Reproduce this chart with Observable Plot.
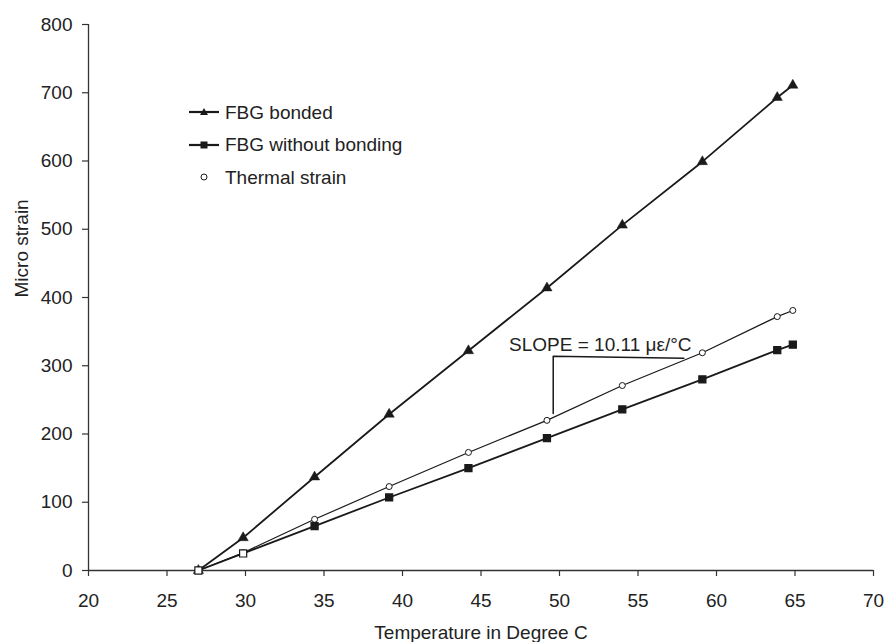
<!DOCTYPE html>
<html><head><meta charset="utf-8">
<script src="https://cdn.jsdelivr.net/npm/d3@7"></script>
<script src="https://cdn.jsdelivr.net/npm/@observablehq/plot@0.6"></script>
<style>
body{margin:0;background:#fff;}
#wrap{position:relative;width:889px;height:642px;font-family:"Liberation Sans",Arial,sans-serif;color:#222;}
#wrap svg.plot{position:absolute;left:0;top:0;}
#legend{position:absolute;left:189px;top:96px;font-size:19px;line-height:1;}
.row{height:32.5px;display:flex;align-items:center;}
.row svg{width:31px;height:14px;margin-right:5px;flex:none;}
</style></head><body><div id="wrap"><div id="legend"></div></div>
<script>
// ---- data ----
const temperature    = [27, 29.85, 34.4, 39.15, 44.2, 49.2, 54.0, 59.1, 63.87, 64.86];
const bondedStrain   = [0, 48, 137, 229, 322, 414, 506, 599, 693, 711];
const unbondedStrain = [0, 25, 65, 107, 150, 194, 236, 280, 323, 331];
const thermalStrain  = [0, 26, 75, 123, 173, 220, 271, 319, 372, 381];
const seriesNames = ["FBG bonded", "FBG without bonding", "Thermal strain"];
const xTicks = [20, 25, 30, 35, 40, 45, 50, 55, 60, 65, 70];
const yTicks = [0, 100, 200, 300, 400, 500, 600, 700, 800];
const slopeLabel = "SLOPE = 10.11 \u03bc\u03b5/\u00b0C";
const slopeBracket = [{t: 57.92, v: 311}, {t: 49.6, v: 314}, {t: 49.6, v: 230}];
const slopeLabelPos = [{t: 52.6, v: 322}];
const xTitle = "Temperature in Degree C";
const yTitle = "Micro strain";

const rows = temperature.map((t, i) => ({
  t, bonded: bondedStrain[i], unbonded: unbondedStrain[i], thermal: thermalStrain[i], i
}));

const ink = "#1a1a1a";
const plot = Plot.plot({
  width: 889, height: 642,
  marginLeft: 88, marginRight: 16, marginTop: 24, marginBottom: 72,
  x: {domain: [20, 70]},
  y: {domain: [0, 800]},
  color: {type: "identity"},
  style: {fontFamily: "'Liberation Sans', Arial, sans-serif", fontSize: "19px", color: "#222", background: "white", overflow: "visible"},
  marks: [
    Plot.axisX({ticks: xTicks, tickSize: 6, tickPadding: 17, label: null, stroke: "#333", strokeWidth: 1.2}),
    Plot.axisY({ticks: yTicks, tickSize: 6, tickPadding: 10, label: null, stroke: "#333", strokeWidth: 1.2}),
    Plot.ruleX([20], {stroke: "#333", strokeWidth: 1.3}),
    Plot.ruleY([0], {stroke: "#333", strokeWidth: 1.3}),
    Plot.text([xTitle], {frameAnchor: "bottom", dy: 62, lineAnchor: "middle", fill: "#222"}),
    Plot.text([yTitle], {frameAnchor: "left", dx: -67, rotate: -90, lineAnchor: "middle", fill: "#222"}),
    // slope annotation
    Plot.line(slopeBracket, {x: "t", y: "v", stroke: ink, strokeWidth: 1.5}),
    Plot.text(slopeLabelPos, {x: "t", y: "v", text: () => slopeLabel, lineAnchor: "bottom", fill: "#222"}),
    // series lines
    Plot.line(rows, {x: "t", y: "bonded", stroke: ink, strokeWidth: 1.8}),
    Plot.line(rows, {x: "t", y: "unbonded", stroke: ink, strokeWidth: 1.8}),
    Plot.line(rows, {x: "t", y: "thermal", stroke: ink, strokeWidth: 1.2}),
    // markers
    Plot.dot(rows, {x: "t", y: "bonded", symbol: "triangle", r: 3.8, fill: ink, stroke: ink, strokeWidth: 0.5}),
    Plot.dot(rows, {x: "t", y: "thermal", r: 3, fill: "white", stroke: ink, strokeWidth: 1}),
    Plot.dot(rows, {x: "t", y: "unbonded", symbol: "square", r: 4, fill: d => d.i < 2 ? "white" : ink, stroke: ink, strokeWidth: 1.2})
  ]
});
plot.classList.add("plot");
document.getElementById("wrap").prepend(plot);

// legend (HTML)
const legendSymbols = [
  `<line x1="0" y1="7" x2="30" y2="7" stroke="${ink}" stroke-width="2.2"/><polygon points="15,3 19,10 11,10" fill="${ink}"/>`,
  `<line x1="0" y1="7" x2="30" y2="7" stroke="${ink}" stroke-width="2.2"/><rect x="11.5" y="3.5" width="7" height="7" fill="${ink}"/>`,
  `<circle cx="15" cy="7" r="3" fill="white" stroke="${ink}" stroke-width="1"/>`
];
const legend = document.getElementById("legend");
seriesNames.forEach((name, k) => {
  const row = document.createElement("div");
  row.className = "row";
  row.innerHTML = `<svg viewBox="0 0 31 14">${legendSymbols[k]}</svg><span>${name}</span>`;
  legend.appendChild(row);
});
</script></body></html>
